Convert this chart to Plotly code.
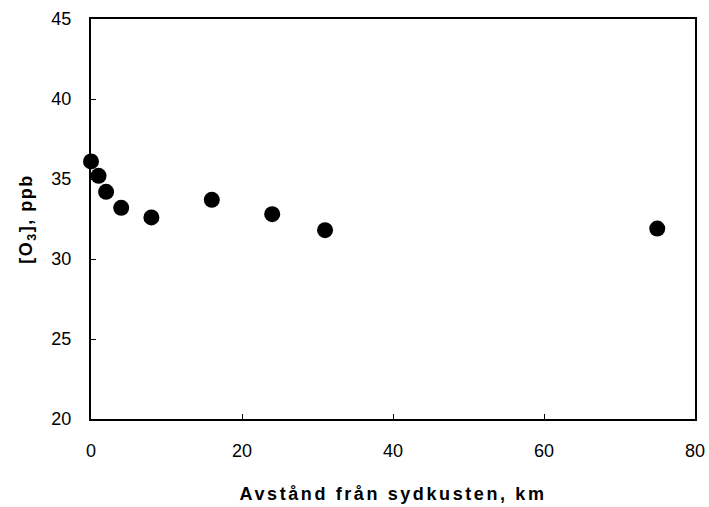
import plotly.graph_objects as go

distance_km = [0, 1, 2, 4, 8, 16, 24, 31, 75]
ozone_ppb = [36.1, 35.2, 34.2, 33.2, 32.6, 33.7, 32.8, 31.8, 31.9]

x_ticks = [0, 20, 40, 60, 80]
y_ticks = [20, 25, 30, 35, 40, 45]

x_title = "Avstånd från sydkusten, km"
y_title = "[O<sub>3</sub>], ppb"

FONT = "Liberation Sans, Arial, sans-serif"

fig = go.Figure()
fig.add_trace(go.Scatter(
    x=distance_km, y=ozone_ppb, mode="markers",
    marker=dict(size=16, color="black", line=dict(width=0)),
    cliponaxis=False, showlegend=False,
))

axis_common = dict(
    showline=True, linecolor="black", linewidth=2, mirror=True,
    ticks="inside", ticklen=5, tickwidth=1, tickcolor="black",
    showgrid=False, zeroline=False, layer="below traces",
    automargin=False,
    tickfont=dict(family=FONT, size=18, color="black"),
)

fig.update_layout(
    width=709, height=507,
    margin=dict(l=91, r=14, t=19, b=88, autoexpand=False),
    paper_bgcolor="white", plot_bgcolor="white",
    xaxis=dict(range=[0, 80], tickvals=x_ticks, ticklabelstandoff=14,
               title=dict(text='<span style="letter-spacing:2.6px">' + x_title + '</span>',
                          font=dict(family=FONT, size=18, color="black", weight="bold"),
                          standoff=28),
               **axis_common),
    yaxis=dict(range=[20, 45], tickvals=y_ticks, ticklabelstandoff=14,
               title=dict(text='<span style="letter-spacing:1.5px">' + y_title + '</span>',
                          font=dict(family=FONT, size=18, color="black", weight="bold"),
                          standoff=14),
               **axis_common),
)

fig.write_html("out.html")
